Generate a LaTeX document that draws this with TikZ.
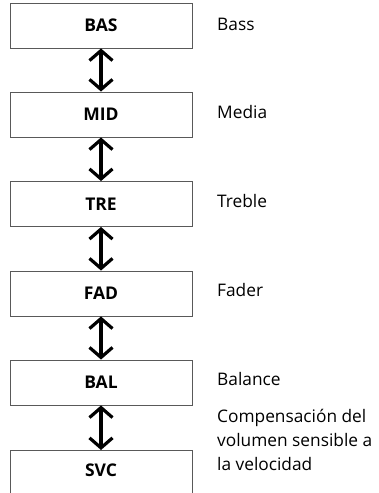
\documentclass[tikz,border=0pt]{standalone}
\usepackage{fontspec}
\setmainfont{Open Sans}
\usetikzlibrary{arrows.meta}
\begin{document}
\begin{tikzpicture}[x=1pt,y=1pt,
  menubox/.style={draw=black!65,line width=0.9pt,minimum width=182pt,minimum height=45pt,
    font=\fontsize{17.5}{20}\selectfont\bfseries,inner sep=0pt},
  desc/.style={anchor=west,font=\fontsize{17.3}{24}\selectfont,align=left,inner sep=0pt},
  tipb/.tip={Straight Barb[length=10pt,width=23pt,line width=3.2pt]},
  link/.style={line width=3.2pt,tipb-tipb}]
\useasboundingbox (0,0) rectangle (379,-493);
\clip (0,0) rectangle (379,-493);
\node[menubox] (bas) at (101,-25.5) {BAS};
\node[menubox] (mid) at (101,-114.5) {MID};
\node[menubox] (tre) at (101,-204) {TRE};
\node[menubox] (fad) at (101,-293.5) {FAD};
\node[menubox] (bal) at (101,-382.5) {BAL};
\node[menubox,minimum height=60pt,anchor=north] (svc) at (101,-450) {};
\node[font=\fontsize{17.5}{20}\selectfont\bfseries] (svct) at (101,-470) {SVC};
\draw[link] (bas.south) -- (mid.north);
\draw[link] (mid.south) -- (tre.north);
\draw[link] (tre.south) -- (fad.north);
\draw[link] (fad.south) -- (bal.north);
\draw[link] (bal.south) -- (svc.north);
\node[desc] (lbas) at (217,-24) {Bass};
\node[desc] (lmid) at (217,-112) {Media};
\node[desc] (ltre) at (217,-201) {Treble};
\node[desc] (lfad) at (217,-290) {Fader};
\node[desc] (lbal) at (217,-379) {Balance};
\node[desc] (lsvc) at (217,-440) {Compensación del\\volumen sensible a\\la velocidad};
\end{tikzpicture}
\end{document}
